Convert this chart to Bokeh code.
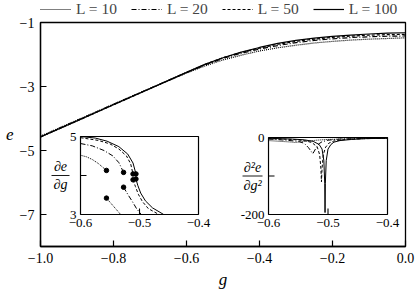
import numpy as np
from bokeh.plotting import figure
from bokeh.layouts import column
from bokeh.models import Range1d, FixedTicker, Legend, LegendItem
from bokeh.embed import file_html
from bokeh.resources import INLINE
from bokeh.core.properties import value

# ---------------- main panel data: e(g) ----------------
g = [-1.0, -0.9, -0.8, -0.7, -0.6, -0.55, -0.5, -0.45, -0.4, -0.35, -0.3,
     -0.25, -0.2, -0.15, -0.1, -0.05, 0.0]
e_L10 = [-4.55, -4.05, -3.55, -3.06, -2.58, -2.36, -2.17, -2.02, -1.89, -1.79,
         -1.71, -1.64, -1.59, -1.55, -1.52, -1.50, -1.48]
e_L20 = [-4.57, -4.065, -3.56, -3.06, -2.565, -2.33, -2.12, -1.96, -1.83, -1.72,
         -1.63, -1.56, -1.51, -1.47, -1.445, -1.43, -1.42]
e_L50 = [-4.58, -4.075, -3.57, -3.065, -2.56, -2.315, -2.10, -1.935, -1.80, -1.68,
         -1.59, -1.52, -1.465, -1.425, -1.395, -1.38, -1.37]
e_L100 = [-4.58, -4.075, -3.57, -3.065, -2.56, -2.31, -2.10, -1.925, -1.78, -1.655,
          -1.56, -1.49, -1.435, -1.395, -1.36, -1.335, -1.32]

legend_labels = ["L = 10", "L = 20", "L = 50", "L = 100"]
main_xticks = [-1.0, -0.8, -0.6, -0.4, -0.2, 0.0]
main_xlabels = ["\u22121.0", "\u22120.8", "\u22120.6", "\u22120.4", "\u22120.2", "0.0"]
main_yticks = [-1, -3, -5, -7]
main_ylabels = ["\u22121", "\u22123", "\u22125", "\u22127"]

# ---------------- inset 1 data: de/dg ----------------
d1_L10_up_g = [-0.6, -0.59, -0.58, -0.57, -0.556]
d1_L10_up_v = [4.52, 4.48, 4.41, 4.31, 4.13]
d1_L10_lo_g = [-0.556, -0.548, -0.54, -0.532]
d1_L10_lo_v = [3.42, 3.28, 3.14, 3.0]
d1_L20_up_g = [-0.6, -0.58, -0.56, -0.545, -0.535, -0.527]
d1_L20_up_v = [4.82, 4.76, 4.64, 4.5, 4.33, 4.08]
d1_L20_lo_g = [-0.527, -0.52, -0.512, -0.505, -0.497]
d1_L20_lo_v = [3.70, 3.52, 3.33, 3.15, 3.0]
d1_L50_up_g = [-0.6, -0.57, -0.55, -0.535, -0.522, -0.515, -0.511]
d1_L50_up_v = [4.97, 4.9, 4.81, 4.68, 4.5, 4.3, 4.04]
d1_L50_lo_g = [-0.511, -0.507, -0.502, -0.495, -0.485, -0.467]
d1_L50_lo_v = [3.89, 3.72, 3.52, 3.33, 3.15, 3.0]
d1_L100_up_g = [-0.6, -0.575, -0.555, -0.535, -0.52, -0.511, -0.506]
d1_L100_up_v = [5.0, 4.96, 4.88, 4.74, 4.55, 4.32, 4.04]
d1_L100_lo_g = [-0.506, -0.503, -0.498, -0.49, -0.478, -0.459]
d1_L100_lo_v = [3.91, 3.75, 3.55, 3.35, 3.17, 3.0]
d1_dot_g = [-0.556, -0.527, -0.511, -0.506]
d1_dot_up = [4.13, 4.08, 4.04, 4.04]
d1_dot_lo = [3.42, 3.70, 3.89, 3.91]
in1_xticks = [-0.6, -0.5, -0.4]
in1_xlabels = ["\u22120.6", "\u22120.5", "\u22120.4"]
in1_yticks = [5, 3]
in1_ylabels = ["5", "3"]

# ---------------- inset 2 data: d2e/dg2 ----------------
d2_L10_g = [-0.6, -0.58, -0.56, -0.556, -0.55, -0.54, -0.53, -0.52, -0.5, -0.48, -0.45, -0.4]
d2_L10_v = [-8, -10, -12, -13, -12, -10, -9, -7, -5, -4, -3, -2]
d2_L20_g = [-0.6, -0.57, -0.55, -0.54, -0.533, -0.5255, -0.52, -0.515, -0.51, -0.5, -0.48, -0.45, -0.4]
d2_L20_v = [-4, -7, -10, -15, -26, -42, -27, -16, -11, -7, -4, -3, -2]
d2_L50_g = [-0.6, -0.56, -0.54, -0.527, -0.518, -0.514, -0.512, -0.511, -0.510, -0.508,
            -0.504, -0.498, -0.49, -0.47, -0.44, -0.4]
d2_L50_v = [-3, -5, -8, -13, -25, -45, -80, -115, -80, -45, -25, -14, -9, -5, -3, -2]
d2_L100_g = [-0.6, -0.56, -0.54, -0.525, -0.515, -0.51, -0.507, -0.5055, -0.505, -0.5045,
             -0.503, -0.5, -0.495, -0.49, -0.48, -0.46, -0.44, -0.4]
d2_L100_v = [-2, -4, -6, -10, -18, -30, -60, -120, -195, -120, -60, -30, -18, -12, -8, -5, -3, -2]
in2_xticks = [-0.6, -0.5, -0.4]
in2_xlabels = ["\u22120.6", "\u22120.5", "\u22120.4"]
in2_yticks = [0, -200]
in2_ylabels = ["0", "-200"]

SERIF = "Liberation Serif"
dashes = ["1 1", "5 2 1 2", "3 2", "solid"]
series = [e_L10, e_L20, e_L50, e_L100]

# ---------------- legend strip (separate small figure above) ----------------
leg = figure(width=415, height=16, x_range=Range1d(-1, 0), y_range=Range1d(0, 1),
             output_backend="svg", toolbar_location=None, x_axis_type=None, y_axis_type=None,
             min_border_left=40, min_border_right=10, min_border_top=0, min_border_bottom=0)
leg.grid.visible = False
leg.outline_line_color = None
leg_rs = [leg.line(g, ys, line_color="black", line_width=1.2, line_dash=d)
          for ys, d in zip(series, dashes)]
legend = Legend(items=[LegendItem(label=lab, renderers=[r]) for lab, r in zip(legend_labels, leg_rs)],
                orientation="horizontal", location="top_left", padding=0, margin=0,
                spacing=14, label_standoff=5, glyph_width=31, glyph_height=14, label_height=14,
                label_text_font=SERIF, label_text_font_size="15.5px", border_line_color=None,
                background_fill_alpha=0)
leg.add_layout(legend)

# ---------------- main figure ----------------
p = figure(width=415, height=276, x_range=Range1d(-1, 0), y_range=Range1d(-8, -1),
           output_backend="svg", toolbar_location=None,
           min_border_left=40, min_border_right=10, min_border_top=6, min_border_bottom=46)
p.grid.visible = False
p.outline_line_color = "black"
p.outline_line_width = 1.3
p.background_fill_color = "white"

for ax in (p.xaxis[0], p.yaxis[0]):
    ax.major_tick_in = 6
    ax.major_tick_out = 0
    ax.minor_tick_line_color = None
    ax.axis_line_width = 1.3
    ax.major_tick_line_width = 1.2
    ax.major_label_text_font = SERIF
    ax.major_label_text_font_size = "14px"
    ax.axis_label_text_font = SERIF
    ax.axis_label_text_font_style = "italic"
    ax.axis_label_text_font_size = "17px"
    ax.axis_label_text_color = "black"
    ax.major_label_text_color = "black"

p.xaxis.ticker = FixedTicker(ticks=main_xticks)
p.xaxis.major_label_overrides = dict(zip(main_xticks, main_xlabels))
p.xaxis.axis_label = "g"
p.xaxis.major_label_standoff = 6
p.xaxis.axis_label_standoff = 4
p.yaxis.ticker = FixedTicker(ticks=main_yticks)
p.yaxis.major_label_overrides = dict(zip(main_yticks, main_ylabels))
p.yaxis.axis_label = "e"
p.yaxis.axis_label_orientation = "horizontal"
p.yaxis.major_label_standoff = 6
p.yaxis.axis_label_standoff = 3

for ys, d in zip(series, dashes):
    p.line(g, ys, line_color="black", line_width=1.2, line_dash=d)

# ---------- insets (placed in main data coordinates) ----------
in1 = p.subplot(x_source=Range1d(-0.6, -0.4), y_source=Range1d(3, 5),
                x_target=Range1d(-0.8904, -0.5671), y_target=Range1d(-7.0, -4.5625))
in2 = p.subplot(x_source=Range1d(-0.6, -0.4), y_source=Range1d(-200, 0),
                x_target=Range1d(-0.3753, -0.0493), y_target=Range1d(-7.0, -4.594))

def draw_frame(sub, x0, x1, y0, y1, pxx, pxy, xticks, xlabels, yticks, ylabels, ymid, xmid):
    sub.quad(left=[x0], right=[x1], bottom=[y0], top=[y1], fill_color="white",
             line_color="black", line_width=1.2)
    sub.segment(x0=[xmid], x1=[xmid], y0=[y0], y1=[y0 + 6 * pxy], line_color="black", line_width=1.1)
    sub.segment(x0=[x0], x1=[x0 + 6 * pxx], y0=[ymid], y1=[ymid], line_color="black", line_width=1.1)
    sub.text(x=xticks, y=[y0] * len(xticks), text=xlabels, text_align="center",
             text_baseline="top", y_offset=4, text_font=value(SERIF),
             text_font_size="13px", text_color="black")
    sub.text(x=[x0] * len(yticks), y=yticks, text=ylabels, text_align="right",
             text_baseline="middle", x_offset=-4, text_font=value(SERIF),
             text_font_size="13px", text_color="black")

pxx1, pxy1 = 0.2 / 118, 2.0 / 78
pxx2, pxy2 = 0.2 / 119, 200.0 / 77
draw_frame(in1, -0.6, -0.4, 3, 5, pxx1, pxy1, in1_xticks, in1_xlabels, in1_yticks, in1_ylabels, 4, -0.5)
draw_frame(in2, -0.6, -0.4, -200, 0, pxx2, pxy2, in2_xticks, in2_xlabels, in2_yticks, in2_ylabels, -100, -0.5)

pieces1 = [
    (d1_L10_up_g, d1_L10_up_v, d1_L10_lo_g, d1_L10_lo_v),
    (d1_L20_up_g, d1_L20_up_v, d1_L20_lo_g, d1_L20_lo_v),
    (d1_L50_up_g, d1_L50_up_v, d1_L50_lo_g, d1_L50_lo_v),
    (d1_L100_up_g, d1_L100_up_v, d1_L100_lo_g, d1_L100_lo_v),
]
for (ug, uv, lg, lv), d in zip(pieces1, dashes):
    in1.line(ug, uv, line_color="black", line_width=1.0, line_dash=d)
    in1.line(lg, lv, line_color="black", line_width=1.0, line_dash=d)
in1.scatter(d1_dot_g, d1_dot_up, size=4.5, color="black")
in1.scatter(d1_dot_g, d1_dot_lo, size=4.5, color="black")

for gg, vv, d in zip([d2_L10_g, d2_L20_g, d2_L50_g, d2_L100_g],
                     [d2_L10_v, d2_L20_v, d2_L50_v, d2_L100_v], dashes):
    in2.line(gg, vv, line_color="black", line_width=1.0, line_dash=d)

def frac(sub, x0, ymid, pxx, top, bot, off, half):
    for txt, yo in ((top, -9), (bot, 9)):
        sub.text(x=[x0], y=[ymid], text=[txt], x_offset=off, y_offset=yo, text_align="center",
                 text_baseline="middle", text_font=value(SERIF), text_font_style="italic",
                 text_font_size="14px", text_color="black")
    sub.segment(x0=[x0 + (off - half) * pxx], x1=[x0 + (off + half) * pxx], y0=[ymid], y1=[ymid],
                line_color="black", line_width=0.9)

frac(in1, -0.6, 4, pxx1, "\u2202e", "\u2202g", -20, 9)
frac(in2, -0.6, -100, pxx2, "\u2202\u00b2e", "\u2202g\u00b2", -16, 10)

layout = column(leg, p, spacing=0)
open("out.html", "w").write(file_html(layout, INLINE))
